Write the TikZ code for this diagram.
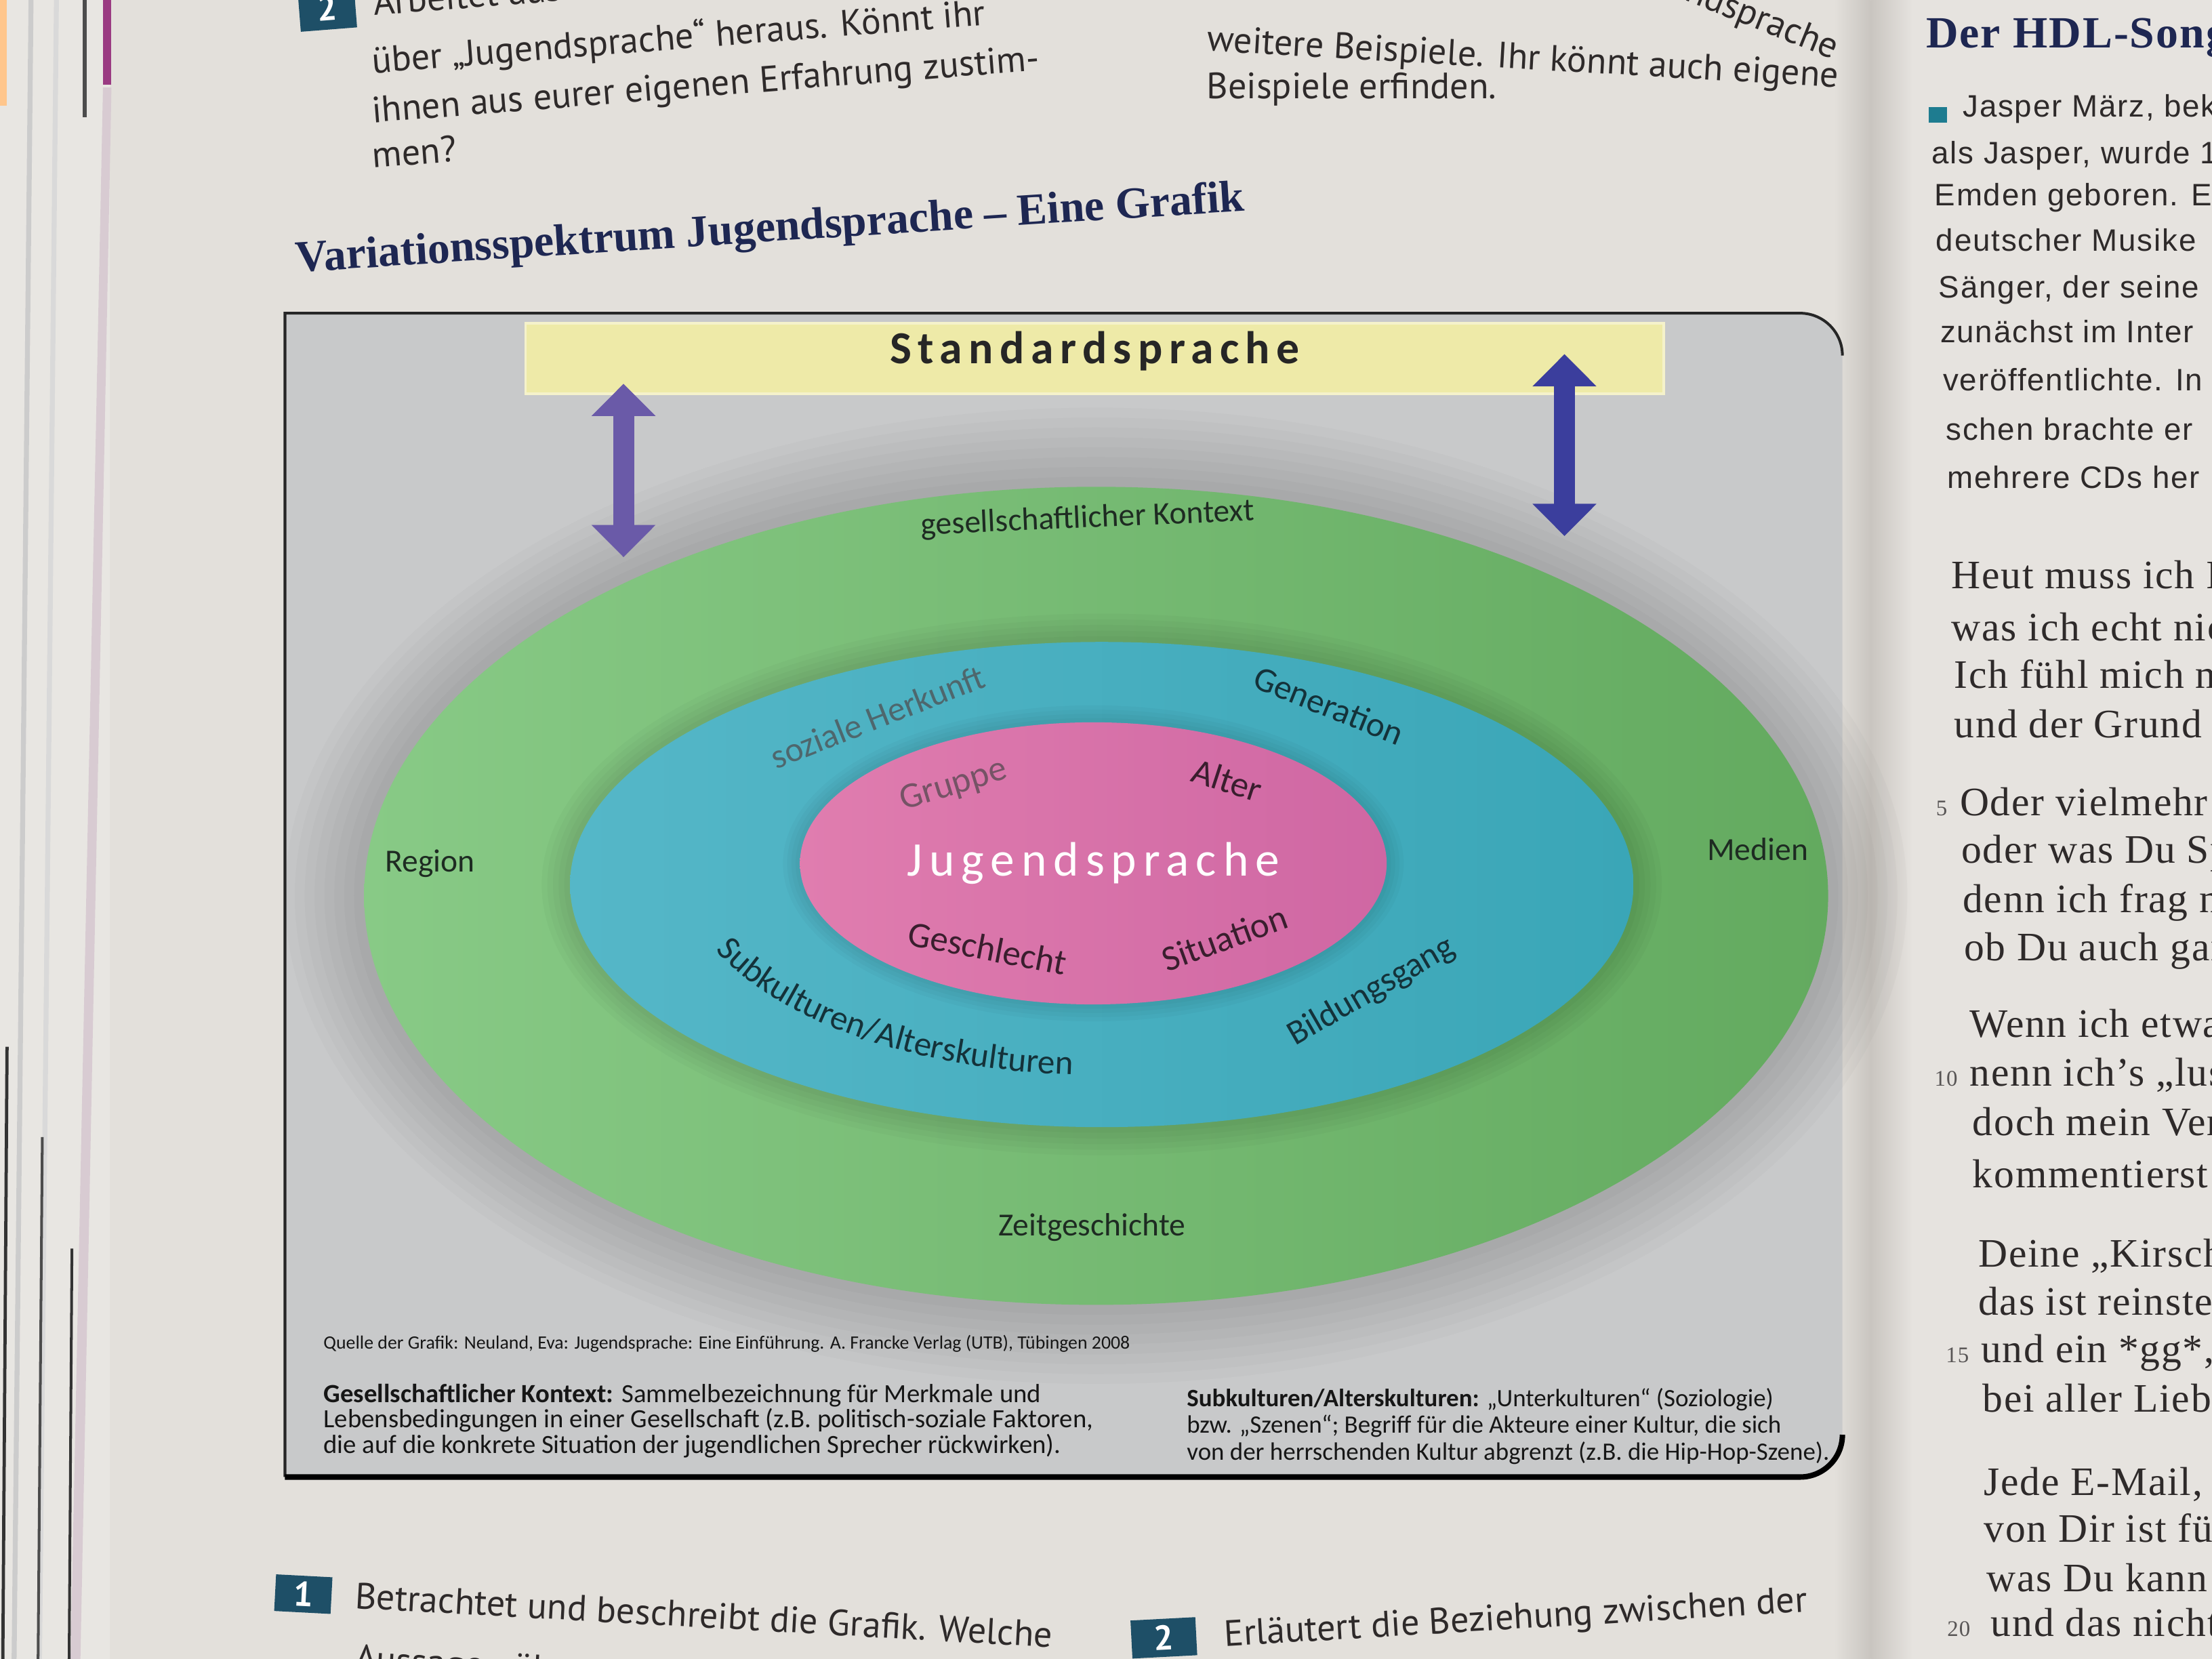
\documentclass[tikz,border=0pt]{standalone}
\usepackage{fontspec}
\usetikzlibrary{shapes.geometric,arrows.meta,decorations.text}
\setmainfont{Carlito}
\newfontfamily\lblfont{Carlito}
\newfontfamily\spfont[LetterSpace=14]{Carlito}
\newfontfamily\capfont{Carlito}
\newfontfamily\ttlfont{Liberation Serif}
\newfontfamily\psans{PT Sans}
\newfontfamily\rsans[LetterSpace=4]{Liberation Sans}
\newfontfamily\rserif[LetterSpace=3]{Liberation Serif}

\definecolor{pagebg}{HTML}{E3E0DB}
\definecolor{pagebgR}{HTML}{E6E3DF}
\definecolor{edgebg}{HTML}{E8E6E2}
\definecolor{gutter}{HTML}{C9C5C0}
\definecolor{framegray}{HTML}{C8C9CA}
\definecolor{stdyellow}{HTML}{EEEAA8}
\definecolor{gL}{HTML}{88CA86}
\definecolor{gR}{HTML}{63AA5F}
\definecolor{tL}{HTML}{55B7C8}
\definecolor{tR}{HTML}{3AA6B7}
\definecolor{pL}{HTML}{E07DAF}
\definecolor{pR}{HTML}{CF67A3}
\definecolor{arrL}{HTML}{6A5AA8}
\definecolor{arrR}{HTML}{3B3E9D}
\definecolor{lbldark}{HTML}{1E2B22}
\definecolor{ringdark}{HTML}{14323A}
\definecolor{ringfaded}{HTML}{4E676D}
\definecolor{coredark}{HTML}{3A1E2E}
\definecolor{corefaded}{HTML}{765366}
\definecolor{captext}{HTML}{161616}
\definecolor{pagetext}{HTML}{2E2A2A}
\definecolor{titlenavy}{HTML}{1E2752}
\definecolor{badgecol}{HTML}{1E4F67}
\definecolor{bulletcol}{HTML}{1E7C90}
\definecolor{tabpurple}{HTML}{9A3A82}
\definecolor{palepurple}{HTML}{D8CBD2}

\tikzset{
  lbl/.style={font=\lblfont\fontsize{13pt}{15pt}\selectfont, text=lbldark, inner sep=0pt},
  ring/.style={font=\lblfont\fontsize{14pt}{16pt}\selectfont, text=ringdark, inner sep=0pt},
  core/.style={font=\lblfont\fontsize{14.5pt}{16pt}\selectfont, text=coredark, inner sep=0pt},
  dbl/.style={line width=8.5pt, {Triangle[width=25pt,length=13pt]}-{Triangle[width=25pt,length=13pt]}},
  captxt/.style={font=\capfont\fontsize{10.6pt}{12pt}\selectfont, anchor=base west, inner sep=0pt, text=captext},
  ptxt/.style={font=\psans\fontsize{14.8pt}{17pt}\selectfont, anchor=base west, inner sep=0pt, text=pagetext},
  rs/.style={font=\rsans\fontsize{12.5pt}{15pt}\selectfont, anchor=base west, inner sep=0pt, text=pagetext},
  rp/.style={font=\rserif\fontsize{16.3pt}{19pt}\selectfont, anchor=base west, inner sep=0pt, text=pagetext},
  lnum/.style={font=\rserif\fontsize{9pt}{10pt}\selectfont, anchor=base west, inner sep=0pt, text=pagetext!80},
  badge/.style={fill=badgecol, text=white, font=\psans\bfseries\fontsize{14pt}{16pt}\selectfont, inner sep=0pt},
  ell/.style={ellipse, inner sep=0pt, outer sep=0pt},
}

\begin{document}
\begin{tikzpicture}[x=0.02cm,y=0.02cm]
\clip (0,0) rectangle (1568,-1176);
\fill[pagebg] (0,0) rectangle (1568,-1176);
\fill[pagebgR] (1340,0) rectangle (1568,-1176);

% stacked page edges on the left
\fill[edgebg] (0,0) rectangle (78,-1176);
\fill[orange!45] (0,0) rectangle (5,-75);
\draw[black!20, line width=2pt] (22,0) -- (10,-1176);
\draw[black!15, line width=2pt] (40,0) -- (28,-1176);
\draw[black!70, line width=1.5pt] (60,0) -- (60,-83);
\fill[tabpurple] (73,0) rectangle (79,-60);
\fill[palepurple] (73,-62) -- (79,-62) -- (57,-1176) -- (50,-1176) -- cycle;
\draw[black!80, line width=1.3pt] (5,-742) -- (2,-1176);
\draw[black!70, line width=1.1pt] (30,-806) -- (27,-1176);
\draw[black!80, line width=1.1pt] (51,-885) -- (49,-1176);

% gutter
\shade[left color=pagebg, right color=gutter] (1300,0) rectangle (1326,-1176);
\shade[left color=gutter, right color=pagebgR] (1326,0) rectangle (1356,-1176);

% top page text, left column
\node[badge, minimum width=0.8cm, minimum height=0.6cm, rotate=4.5] (b2top) at (232,-6) {2};
\node[ptxt, rotate=4.5] (t1) at (265,-11) {Arbeitet aus};
\node[ptxt, rotate=4.5] (t2) at (264,-52) {über „Jugendsprache“ heraus. Könnt ihr};
\node[ptxt, rotate=4.5] (t3) at (264,-87) {ihnen aus eurer eigenen Erfahrung zustim-};
\node[ptxt, rotate=4.5] (t4) at (264,-119) {men?};
% top page text, right column
\node[ptxt, rotate=-22, anchor=center] (t5) at (1226,-6) {Jugendsprache};
\node[ptxt, rotate=-3.3] (t6) at (855,-36) {weitere Beispiele. Ihr könnt auch eigene};
\node[ptxt] (t7) at (855,-70) {Beispiele erfinden.};

% title
\node[anchor=base west, inner sep=0pt, rotate=3.7, text=titlenavy,
      font=\ttlfont\bfseries\fontsize{18pt}{20pt}\selectfont] (title) at (210,-193)
      {Variationsspektrum Jugendsprache – Eine Grafik};

% frame of the graphic
\fill[framegray] (202,-1047) -- (202,-222) -- (1276,-222)
   arc[start angle=90, end angle=0, radius=30] -- (1306,-1017)
   arc[start angle=0, end angle=-90, radius=30] -- cycle;
\draw[black!85, line width=1.1pt] (202,-1047) -- (202,-222) -- (1276,-222)
   arc[start angle=90, end angle=0, radius=30];
\draw[black, line width=2.2pt] (202,-1047) -- (1276,-1047)
   arc[start angle=-90, end angle=0, radius=30];

% soft shadow around the outer ellipse
\foreach \k in {1,...,8}
  \fill[black, opacity=0.02] (777,-635) ellipse [x radius={519+7*\k}, y radius={290+7*\k}];

% standard language bar
\node[fill=stdyellow, draw=stdyellow!60!white, line width=1pt, minimum width=16.14cm,
      minimum height=1.0cm, inner sep=0pt, text=black!85, text height=10pt, text depth=6pt,
      font=\spfont\bfseries\fontsize{18.5pt}{20pt}\selectfont] (std) at (776,-254) {Standardsprache};

% outer ellipse
\node[ell, left color=gL, right color=gR, minimum width=20.76cm, minimum height=11.6cm] (soc) at (777,-635) {};
% shadow of the middle ellipse on the green
\foreach \k in {1,...,5}
  \fill[black, opacity=0.025] (781,-627) ellipse [x radius={377+4*\k}, y radius={172+4*\k}];
% middle ellipse
\node[ell, left color=tL, right color=tR, minimum width=15.08cm, minimum height=6.88cm] (mid) at (781,-627) {};
% shadow of the inner ellipse on the teal
\foreach \k in {1,...,4}
  \fill[black, opacity=0.025] (775,-612) ellipse [x radius={208+3*\k}, y radius={100+3*\k}];
% inner ellipse
\node[ell, left color=pL, right color=pR, minimum width=8.32cm, minimum height=4cm, text=white,
      font=\spfont\fontsize{19.5pt}{21pt}\selectfont] (core) at (775,-612) {Jugendsprache};

% double arrows between standard language and the social context
\coordinate (la1) at (442,-272);
\coordinate (la2) at (442,-395);
\coordinate (ra1) at (1109,-251);
\coordinate (ra2) at (1109,-380);
\draw[dbl, arrL] (la1) -- (la2);
\draw[dbl, arrR] (ra1) -- (ra2);

% outer ring labels
\node[lbl, rotate=2.5] (lkon) at (771,-368) {gesellschaftlicher Kontext};
\node[lbl] (lreg) at (305,-612) {Region};
\node[lbl] (lmed) at (1246,-602) {Medien};
\node[lbl] (lzeit) at (774,-870) {Zeitgeschichte};

% middle ring labels
\node[ring, rotate=21.5, text=ringfaded] (lherk) at (622,-508) {soziale Herkunft};
\node[ring, rotate=-22] (lgen) at (942,-500) {Generation};
\node[ring, rotate=30] (lbild) at (972,-703) {Bildungsgang};
\path[decorate, decoration={text along path, text align=center, text color=ringdark,
      text={|\lblfont\fontsize{14pt}{16pt}\selectfont|Subkulturen/Alterskulturen}}]
      (502.6,-668.2) arc[start angle=202, end angle=268, x radius=297, y radius=150];

% core labels
\node[core, rotate=17, text=corefaded] (lgru) at (676,-557) {Gruppe};
\node[core, rotate=-18] (lalt) at (870,-553) {Alter};
\node[core, rotate=-11] (lges) at (700,-672) {Geschlecht};
\node[core, rotate=20] (lsit) at (868,-665) {Situation};

% source and captions
\node[captxt, font=\capfont\fontsize{7.6pt}{9pt}\selectfont] (src) at (229,-956)
  {Quelle der Grafik: Neuland, Eva: Jugendsprache: Eine Einführung. A. Francke Verlag (UTB), Tübingen 2008};
\node[captxt] (cl1) at (229,-994) {\textbf{Gesellschaftlicher Kontext:} Sammelbezeichnung für Merkmale und};
\node[captxt] (cl2) at (229,-1012) {Lebensbedingungen in einer Gesellschaft (z.B. politisch-soziale Faktoren,};
\node[captxt] (cl3) at (229,-1030) {die auf die konkrete Situation der jugendlichen Sprecher rückwirken).};
\node[captxt, font=\capfont\fontsize{10.1pt}{12pt}\selectfont] (cr1) at (841,-997) {\textbf{Subkulturen/Alterskulturen:} „Unterkulturen“ (Soziologie)};
\node[captxt, font=\capfont\fontsize{10.1pt}{12pt}\selectfont] (cr2) at (841,-1016) {bzw. „Szenen“; Begriff für die Akteure einer Kultur, die sich};
\node[captxt, font=\capfont\fontsize{10.1pt}{12pt}\selectfont] (cr3) at (841,-1035) {von der herrschenden Kultur abgrenzt (z.B. die Hip-Hop-Szene).};

% bottom exercises
\node[badge, minimum width=0.8cm, minimum height=0.52cm, rotate=-3] (b1) at (215,-1130) {1};
\node[ptxt, rotate=-3.2] (e1) at (251,-1140) {Betrachtet und beschreibt die Grafik. Welche};
\node[ptxt, rotate=-3.2] (e1b) at (251,-1184) {Aussagen über};
\node[badge, minimum width=0.92cm, minimum height=0.54cm, rotate=3] (b2) at (825,-1161) {2};
\node[ptxt, rotate=3.4] (e2) at (868,-1167) {Erläutert die Beziehung zwischen der};

% right page
\node[anchor=base west, inner sep=0pt, text=titlenavy,
      font=\rserif\bfseries\fontsize{18pt}{20pt}\selectfont] (song) at (1365,-34) {Der HDL-Song};
\fill[bulletcol] (1367,-76) rectangle (1380,-87);
\node[rs] (r1) at (1391,-83) {Jasper März, bek};
\node[rs] (r2) at (1369,-116) {als Jasper, wurde 1};
\node[rs] (r3) at (1371,-146) {Emden geboren. E};
\node[rs] (r4) at (1372,-178) {deutscher Musike};
\node[rs] (r5) at (1374,-211) {Sänger, der seine};
\node[rs] (r6) at (1375,-243) {zunächst im Inter};
\node[rs] (r7) at (1377,-277) {veröffentlichte. In};
\node[rs] (r8) at (1379,-312) {schen brachte er};
\node[rs] (r9) at (1380,-346) {mehrere CDs her};

\node[rp] (p1) at (1383,-417) {Heut muss ich I};
\node[rp] (p2) at (1383,-454) {was ich echt nic};
\node[rp] (p3) at (1385,-488) {Ich fühl mich m};
\node[rp] (p4) at (1385,-523) {und der Grund};
\node[lnum] (n5) at (1372,-578) {5};
\node[rp] (p5) at (1389,-578) {Oder vielmehr};
\node[rp] (p6) at (1390,-612) {oder was Du Sp};
\node[rp] (p7) at (1391,-647) {denn ich frag n};
\node[rp] (p8) at (1392,-681) {ob Du auch gar};
\node[rp] (p9) at (1396,-735) {Wenn ich etwa};
\node[lnum] (n10) at (1371,-770) {10};
\node[rp] (p10) at (1396,-770) {nenn ich’s „lus};
\node[rp] (p11) at (1398,-805) {doch mein Ver};
\node[rp] (p12) at (1398,-842) {kommentierst};
\node[rp] (p13) at (1402,-898) {Deine „Kirsch};
\node[rp] (p14) at (1402,-932) {das ist reinste};
\node[lnum] (n15) at (1379,-966) {15};
\node[rp] (p15) at (1404,-966) {und ein *gg*,};
\node[rp] (p16) at (1405,-1001) {bei aller Liebe};
\node[rp] (p17) at (1406,-1060) {Jede E-Mail, je};
\node[rp] (p18) at (1406,-1093) {von Dir ist für};
\node[rp] (p19) at (1408,-1128) {was Du kann};
\node[lnum] (n20) at (1380,-1160) {20};
\node[rp] (p20) at (1411,-1160) {und das nicht};
\end{tikzpicture}
\end{document}
